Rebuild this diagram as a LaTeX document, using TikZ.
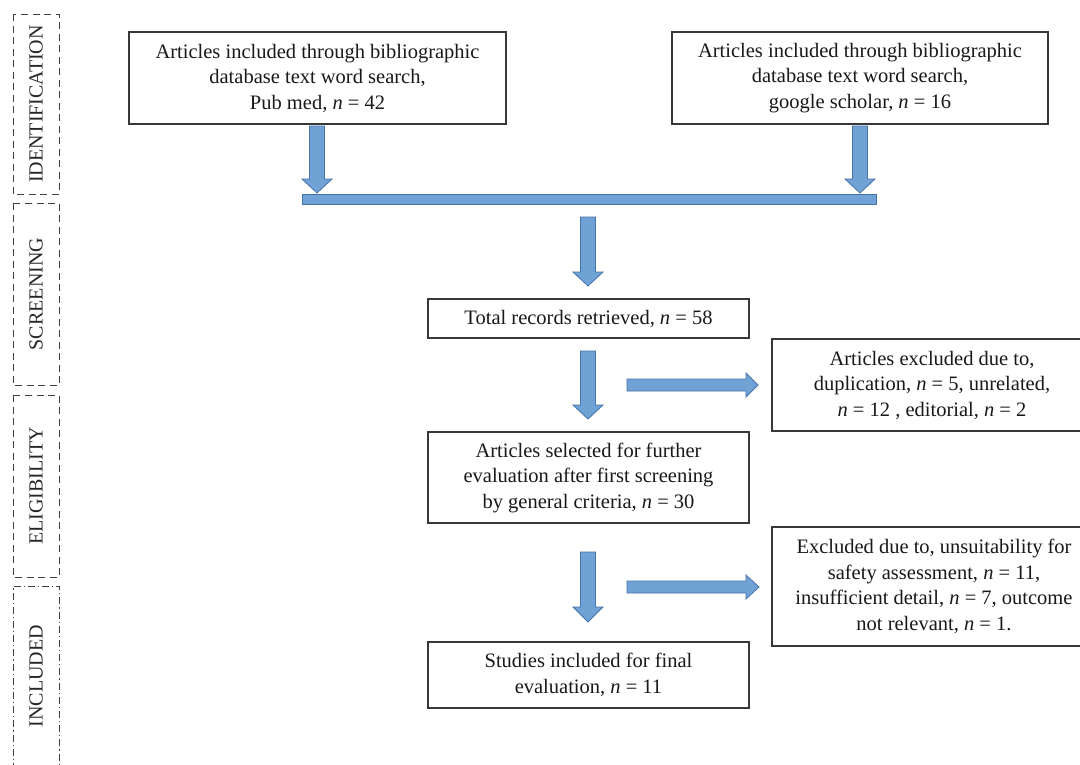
\documentclass[tikz,border=0pt]{standalone}
\usepackage{fontspec}
\setmainfont{Liberation Serif}
\newcommand\vblock[4]{\draw[blockarrow] (#1-7.5,#2) -- (#1+7.5,#2) -- (#1+7.5,#3) -- (#1+15,#3) -- (#1,#4) -- (#1-15,#3) -- (#1-7.5,#3) -- cycle;}
\newcommand\hblock[4]{\draw[blockarrow] (#2,#1-6) -- (#3,#1-6) -- (#3,#1-12) -- (#4,#1) -- (#3,#1+12) -- (#3,#1+6) -- (#2,#1+6) -- cycle;}
\begin{document}
\begin{tikzpicture}[x=1pt,y=-1pt,
  box/.style={draw=black!78,line width=1.2pt,fill=white,align=center,inner sep=0pt,
    font=\fontsize{20.5}{25.5}\selectfont,text=black!90},
  phase/.style={draw=black!75,line width=0.9pt,dash pattern=on 7pt off 4.5pt},
  phasedot/.style={draw=black!75,line width=0.9pt,dash pattern=on 7pt off 3pt on 1.2pt off 3pt},
  phasetext/.style={rotate=90,font=\fontsize{20}{22}\selectfont,text=black!85},
  blockarrow/.style={fill={rgb,255:red,113;green,162;blue,214},draw={rgb,255:red,70;green,115;blue,170},line width=0.8pt,line join=miter}
]
\useasboundingbox[fill=white] (0,0) rectangle (1080,764);

% phase labels
\draw[phase] (13,14) rectangle (59,194);
\node[phasetext] (lid) at (36,104) {IDENTIFICATION};
\draw[phase] (13,203) rectangle (59,385);
\node[phasetext] (lsc) at (36,294) {SCREENING};
\draw[phase] (13,395) rectangle (59,577);
\node[phasetext] (lel) at (36,486) {ELIGIBILITY};
\draw[phasedot] (13,770) -- (13,586) -- (59,586) -- (59,770);
\node[phasetext] (lin) at (36,676) {INCLUDED};

% boxes
\node[box,minimum width=377pt,minimum height=92pt] (src1) at (317.5,78)
  {Articles included through bibliographic\\database text word search,\\Pub med, \textit{n} = 42};
\node[box,minimum width=376pt,minimum height=92pt] (src2) at (860,78)
  {Articles included through bibliographic\\database text word search,\\google scholar, \textit{n} = 16};
\node[box,minimum width=321pt,minimum height=39pt] (total) at (588.5,318.5)
  {Total records retrieved, \textit{n} = 58};
\node[box,minimum width=320pt,minimum height=92pt] (excl1) at (932,385)
  {Articles excluded due to,\\duplication, \textit{n} = 5, unrelated,\\\textit{n} = 12 , editorial, \textit{n} = 2};
\node[box,minimum width=321pt,minimum height=91pt] (sel) at (588.5,477.5)
  {Articles selected for further\\evaluation after first screening\\by general criteria, \textit{n} = 30};
\node[box,minimum width=324pt,minimum height=119pt] (excl2) at (934,586.5)
  {Excluded due to, unsuitability for\\safety assessment, \textit{n} = 11,\\insufficient detail, \textit{n} = 7, outcome\\not relevant, \textit{n} = 1.};
\node[box,minimum width=321pt,minimum height=66pt] (final) at (588.5,675)
  {Studies included for final\\evaluation, \textit{n} = 11};

% block arrows
\draw[blockarrow] (302,194) rectangle (876,204);
\vblock{317}{126}{179}{193}
\vblock{860}{126}{179}{193}
\vblock{588}{217}{272}{286}
\vblock{588}{351}{405}{419}
\hblock{385}{627}{746}{758}
\vblock{588}{552}{607}{622}
\hblock{587}{627}{746}{759}
\end{tikzpicture}
\end{document}
